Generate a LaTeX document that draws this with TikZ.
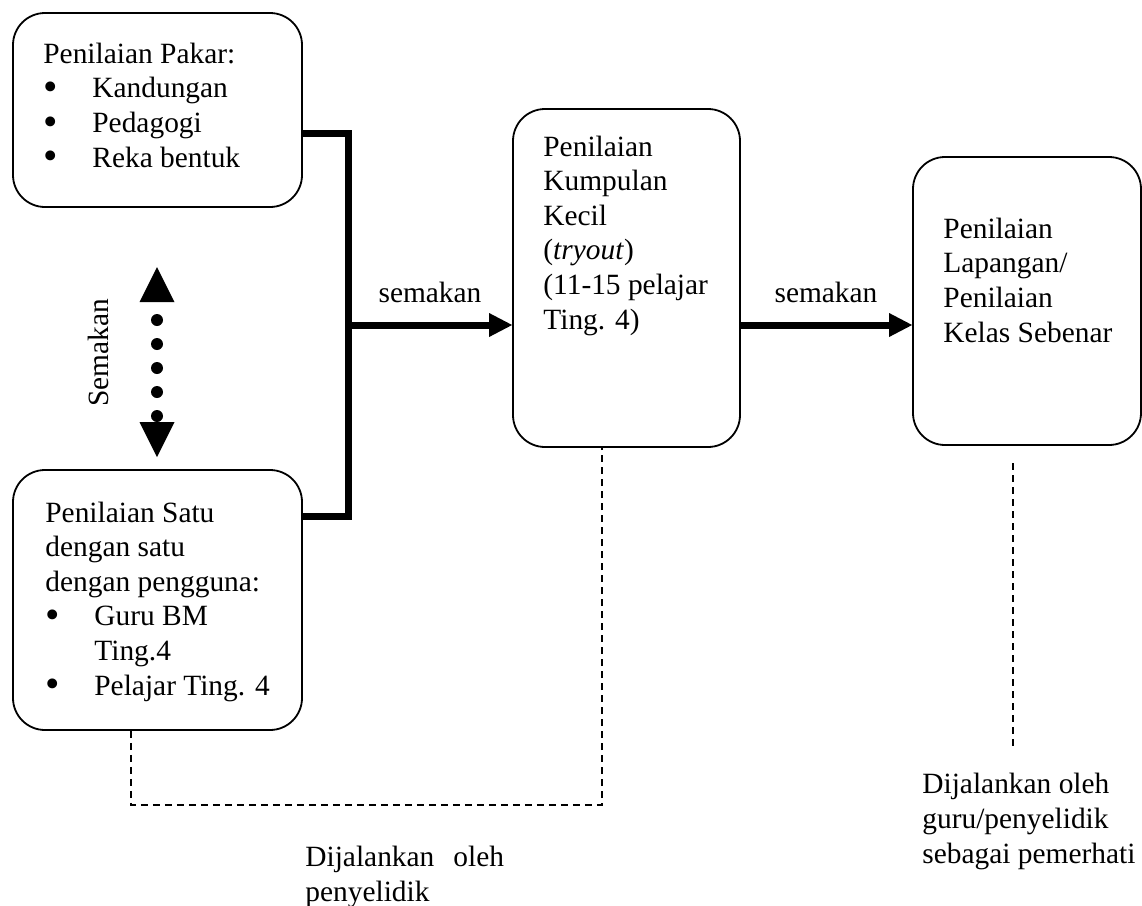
\documentclass[tikz,border=0pt]{standalone}
\usepackage{fontspec}
\setmainfont{Liberation Serif}
\usepackage{tikz}
\usetikzlibrary{arrows.meta, positioning, calc}

\newcommand{\bodysize}{\fontsize{14.7pt}{17.3pt}\selectfont}
\newcommand{\itm}[1]{\makebox[24.5pt][l]{\smash{\raisebox{-0.1em}{\scalebox{1.4}{\textbullet}}}}#1}

\begin{document}
\begin{tikzpicture}[
    x=0.5pt, y=-0.5pt,
    box/.style={rectangle, rounded corners=16pt, draw=black, line width=0.9pt,
                inner sep=0pt},
    txt/.style={align=left, inner sep=0pt, font=\bodysize},
    bracket/.style={line width=3.5pt},
    arrow/.style={-{Triangle[length=11.5pt, width=12pt, line width=0pt]},
                  line width=3.5pt},
    twoway/.style={{Triangle[length=17.5pt, width=17.5pt, line width=0pt]}-{Triangle[length=17.5pt, width=17.5pt, line width=0pt]},
                   line width=6pt, line cap=round,
                   dash pattern=on 0pt off 12pt, dash phase=3pt},
    link/.style={dash pattern=on 3.5pt off 2.5pt, line width=0.75pt}
  ]
    \useasboundingbox (0,0) rectangle (1142,906);

    % Boxes
    \node[box, minimum width=144.5pt, minimum height=97pt] (pakar) at (157.5,110) {};
    \node[box, minimum width=144.5pt, minimum height=130pt] (satu) at (157.5,600) {};
    \node[box, minimum width=113.5pt, minimum height=169pt] (kumpulan) at (626.5,278) {};
    \node[box, minimum width=114pt, minimum height=144pt] (lapangan) at (1027,301) {};

    % Box texts (base = last line)
    \node[txt, anchor=base west] (pakartxt) at (43,167)
      {Penilaian Pakar:\\ \itm{Kandungan}\\ \itm{Pedagogi}\\ \itm{Reka bentuk}};
    \node[txt, anchor=base west] (satutxt) at (45,695)
      {Penilaian Satu\\ dengan satu\\ dengan pengguna:\\ \itm{Guru BM}\\
       \hspace*{24.5pt}Ting.4\\ \itm{Pelajar Ting. 4}};
    \node[txt, anchor=base west] (kumpulantxt) at (543,329)
      {Penilaian\\ Kumpulan\\ Kecil\\ (\textit{tryout})\\ (11-15 pelajar\\ Ting. 4)};
    \node[txt, anchor=base west] (lapangantxt) at (943,342)
      {Penilaian\\ Lapangan/\\ Penilaian\\ Kelas Sebenar};

    % Bracket and arrows
    \coordinate (brtop) at (348,133);
    \coordinate (brmid) at (348,325);
    \coordinate (brbot) at (348,516);
    \draw[bracket] (pakar.east |- brtop) -- (brtop) -- (brbot) -- (satu.east |- brbot);
    \draw[arrow] (brmid) -- (kumpulan.west |- brmid);
    \draw[arrow] (kumpulan.east |- brmid) -- (lapangan.west |- brmid);
    \node[txt] (semak1) at (430,292) {semakan};
    \node[txt] (semak2) at (826,292) {semakan};

    % Two-way check
    \coordinate (semtop) at (157,267);
    \coordinate (sembot) at (157,457);
    \draw[twoway] (semtop) -- (sembot);
    \node[txt, rotate=90] (semak3) at (98,353) {Semakan};

    % Dashed links
    \coordinate (lk1) at (131,805);
    \coordinate (lk2) at (602,805);
    \draw[link] (satu.south -| lk1) -- (lk1) -- (lk2) -- (kumpulan.south -| lk2);
    \coordinate (lk3) at (1013,463);
    \coordinate (lk4) at (1013,750);
    \draw[link] (lk3) -- (lk4);

    % Notes
    \node[txt, anchor=base west] (note1) at (305,901)
      {Dijalankan\hspace{9.5pt}oleh\\ penyelidik};
    \node[txt, anchor=base west] (note2) at (922,863)
      {Dijalankan oleh\\ guru/penyelidik\\ sebagai pemerhati};
\end{tikzpicture}
\end{document}
